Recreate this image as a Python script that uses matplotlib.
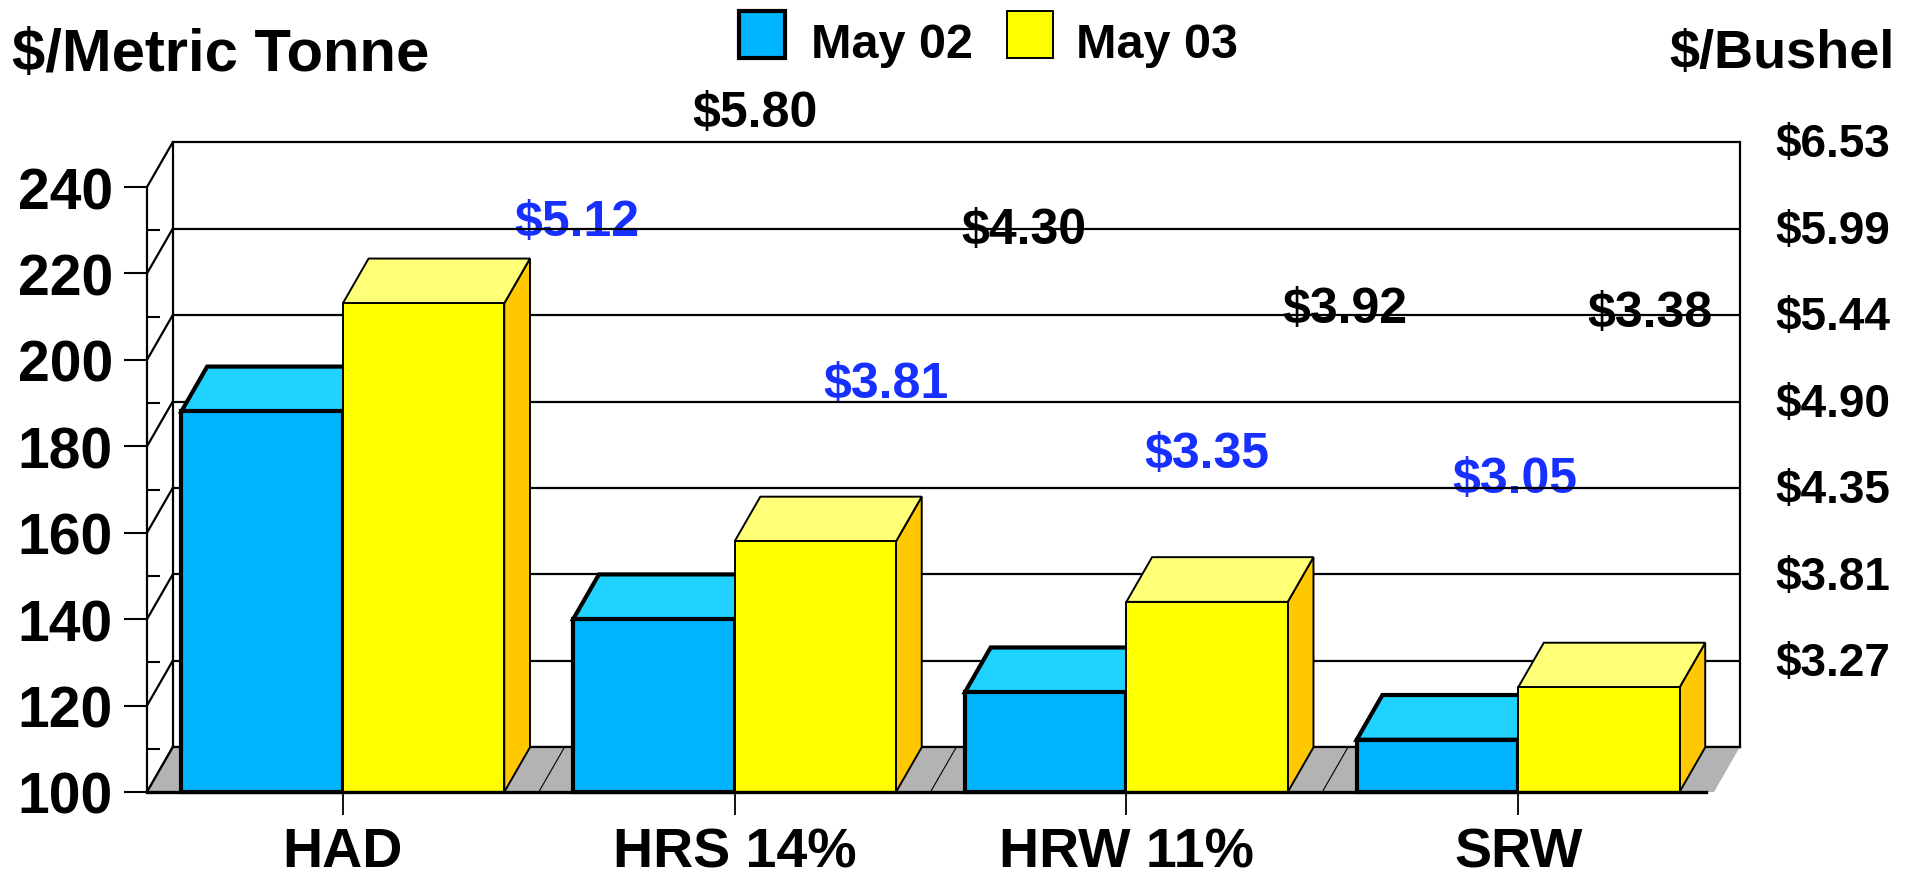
import matplotlib
matplotlib.use('Agg')
import matplotlib.pyplot as plt
from matplotlib.patches import Polygon, Rectangle

plt.rcParams['font.family'] = ['Liberation Sans', 'DejaVu Sans']
plt.rcParams['font.weight'] = 'bold'

# ---------------- data ----------------
categories = ['HAD', 'HRS 14%', 'HRW 11%', 'SRW']
series_names = ['May 02', 'May 03']
may02_tonne = [188.1, 140.0, 123.1, 112.1]
may03_tonne = [213.1, 158.0, 144.0, 124.2]
may02_bushel = [5.12, 3.81, 3.35, 3.05]
may03_bushel = [5.80, 4.30, 3.92, 3.38]
left_ticks = [100, 120, 140, 160, 180, 200, 220, 240]
minor_ticks = [110, 130, 150, 170, 190, 210, 230]
right_ticks = [120, 140, 160, 180, 200, 220, 240]
right_labels = ['$3.27', '$3.81', '$4.35', '$4.90', '$5.44', '$5.99', '$6.53']

# ---------------- layout ----------------
W, H = 1921, 879
DPI = 100
# value-label centres (figure pixels from top-left)
blue_label_px = [(577, 223), (886, 385), (1207, 455), (1515, 480)]
black_label_px = [(755, 114), (1024, 231), (1345, 310), (1650, 314)]

C_BLUE = '#00B4FF'
C_BLUE_TOP = '#20D2FF'
C_YEL = '#FFFF00'
C_YEL_TOP = '#FFFF78'
C_YEL_SIDE = '#FFC800'
C_FLOOR = '#B3B3B3'
C_LBL_BLUE = '#1830FF'

fig = plt.figure(figsize=(W / DPI, H / DPI), dpi=DPI)
fig.patch.set_facecolor('white')

x_left_px, x_right_px = 147, 1714
y_base_px, y_top240_px = 793, 188
ppu_y = (y_base_px - y_top240_px) / 140.0        # px per value unit
ppu_x = (x_right_px - x_left_px) / 4.0           # px per category
DX = 25.7 / ppu_x
DY = 44.7 / ppu_y
ymax = 240 + DY
top_px = y_base_px - (ymax - 100) * ppu_y

ax = fig.add_axes([x_left_px / W, (H - y_base_px) / H,
                   (x_right_px - x_left_px) / W, (y_base_px - top_px) / H])
ax.set_xlim(-0.5, 3.5)
ax.set_ylim(100, ymax)
ax.patch.set_alpha(0)

LW = 1.6
# back wall gridlines
for v in left_ticks:
    ax.plot([-0.5 + DX, 3.5 + DX], [v + DY, v + DY], color='black', lw=LW,
            zorder=1, solid_capstyle='butt', clip_on=False)
for xe in (-0.5 + DX, 3.5 + DX):
    ax.plot([xe, xe], [100 + DY, 240 + DY], color='black', lw=LW, zorder=1, clip_on=False)
# side wall diagonals
for v in left_ticks:
    ax.plot([-0.5, -0.5 + DX], [v, v + DY], color='black', lw=LW, zorder=1.2, clip_on=False)

# floor
floor = Polygon([(-0.5, 100), (3.5, 100), (3.5 + DX, 100 + DY), (-0.5 + DX, 100 + DY)],
                closed=True, facecolor=C_FLOOR, edgecolor='none', zorder=1.5, clip_on=False)
ax.add_patch(floor)
ax.plot([-0.5 + DX, 3.5 + DX], [100 + DY, 100 + DY], color='black', lw=LW, zorder=1.6, clip_on=False)
for xd in [0.5, 1.5, 2.5]:
    ax.plot([xd, xd + DX], [100, 100 + DY], color='black', lw=0.8, zorder=1.6, clip_on=False)
ax.plot([-0.5, -0.5 + DX], [100, 100 + DY], color='black', lw=LW, zorder=1.6, clip_on=False)

# bars
BW = 0.412
for i, cat in enumerate(categories):
    c = i
    vb = may02_tonne[i]
    vy = may03_tonne[i]
    # blue (May 02)
    ax.add_patch(Polygon([(c - BW, vb), (c, vb), (c + DX, vb + DY), (c - BW + DX, vb + DY)],
                         closed=True, facecolor=C_BLUE_TOP, edgecolor='black', lw=3,
                         joinstyle='miter', zorder=3, clip_on=False))
    ax.add_patch(Rectangle((c - BW, 100), BW, vb - 100, facecolor=C_BLUE, edgecolor='black',
                           lw=3, joinstyle='miter', zorder=3.1, clip_on=False))
    # yellow (May 03)
    ax.add_patch(Polygon([(c + BW, 100), (c + BW + DX, 100 + DY), (c + BW + DX, vy + DY), (c + BW, vy)],
                         closed=True, facecolor=C_YEL_SIDE, edgecolor='black', lw=1.4,
                         zorder=4, clip_on=False))
    ax.add_patch(Polygon([(c, vy), (c + BW, vy), (c + BW + DX, vy + DY), (c + DX, vy + DY)],
                         closed=True, facecolor=C_YEL_TOP, edgecolor='black', lw=1.4,
                         zorder=4, clip_on=False))
    ax.add_patch(Rectangle((c, 100), BW, vy - 100, facecolor=C_YEL, edgecolor='black',
                           lw=1.4, zorder=4.1, clip_on=False))

# axes spines and ticks
for s in ['top', 'right']:
    ax.spines[s].set_visible(False)
ax.spines['left'].set_bounds(100, 240)
ax.spines['left'].set_linewidth(LW)
ax.spines['left'].set_zorder(2)
ax.spines['bottom'].set_bounds(-0.5, 3.48)
ax.spines['bottom'].set_linewidth(2.4)
ax.spines['bottom'].set_zorder(5)
ax.set_yticks(left_ticks)
ax.set_yticklabels([str(t) for t in left_ticks])
ax.set_yticks(minor_ticks, minor=True)
ax.set_xticks(range(len(categories)))
ax.set_xticklabels(categories)
ax.tick_params(axis='y', which='major', direction='out', length=16.5, width=1.5,
               pad=8, labelsize=41)
ax.tick_params(axis='y', which='minor', direction='in', length=9, width=1.5)
ax.tick_params(axis='x', which='major', direction='out', length=16.5, width=1.3,
               pad=8, labelsize=40)
for lab in ax.get_xticklabels() + ax.get_yticklabels():
    lab.set_fontweight('bold')

# right-hand $/bushel labels at back-wall gridlines
for v, lab in zip(right_ticks, right_labels):
    ax.text(3.5 + DX + (1776 - 1740) / ppu_x, v + DY - 0.5, lab.replace('$', '\\$'),
            ha='left', va='center', fontsize=33, fontweight='bold', clip_on=False)

# value labels (drawn beneath the gridlines)
for (px, py), v in zip(blue_label_px, may02_bushel):
    ax.text(px / W, 1 - py / H, '\\$%.2f' % v, transform=fig.transFigure, ha='center',
            va='center', fontsize=36, fontweight='bold', color=C_LBL_BLUE, zorder=0.5)
for (px, py), v in zip(black_label_px, may03_bushel):
    ax.text(px / W, 1 - py / H, '\\$%.2f' % v, transform=fig.transFigure, ha='center',
            va='center', fontsize=36, fontweight='bold', color='black', zorder=0.5)

# titles
fig.text(12 / W, 1 - 71 / H, '\\$/Metric Tonne', ha='left', va='baseline',
         fontsize=43, fontweight='bold')
fig.text(1895 / W, 1 - 68 / H, '\\$/Bushel', ha='right', va='baseline',
         fontsize=39, fontweight='bold')

# legend
leg_items = [(739, C_BLUE, 3.0, 811), (1007, C_YEL, 1.4, 1076)]
for (x0, col, lw, tx), name in zip(leg_items, series_names):
    fig.add_artist(Rectangle((x0 / W, 1 - 59 / H), 46 / W, 47 / H, transform=fig.transFigure,
                             facecolor=col, edgecolor='black', lw=lw, joinstyle='miter'))
    fig.text(tx / W, 1 - 58 / H, name, ha='left', va='baseline', fontsize=35, fontweight='bold')

fig.savefig('out.png', dpi=DPI)
